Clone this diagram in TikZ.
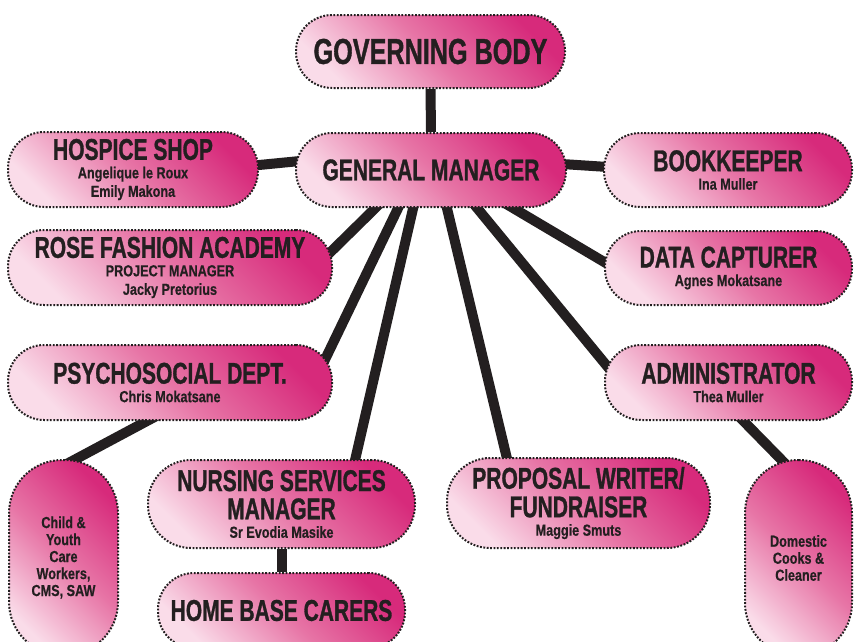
\documentclass[tikz,border=0pt]{standalone}
\usepackage{fontspec}
\setmainfont{Liberation Sans}
\newfontfamily\ttlfont{Liberation Sans}[FakeStretch=0.7, FakeBold=1]
\newfontfamily\subfnt{Liberation Sans}[FakeStretch=0.79, FakeBold=0.5]
\usetikzlibrary{calc,backgrounds}
\definecolor{ink}{HTML}{231F20}
\definecolor{pkdark}{HTML}{D72A7B}
\definecolor{pkmid}{HTML}{E775A6}
\definecolor{pklight}{HTML}{FADCE9}
\newcommand{\ttl}[1]{{\ttlfont\bfseries\fontsize{30}{29}\selectfont #1}}
\tikzset{
  box/.style={rectangle, draw=ink, line width=2pt, dash pattern=on 1.8pt off 1.6pt,
    top color=pkdark, bottom color=pklight, middle color=pkmid, shading angle=-45,
    align=center, inner sep=0pt, text=ink,
    font=\subfnt\bfseries\fontsize{16}{18.5}\selectfont},
  hbox/.style={box, rounded corners=36pt},
  tbox/.style={box, rounded corners=43pt},
  vbox/.style={box, rounded corners=53pt, font=\subfnt\bfseries\fontsize{16}{17}\selectfont},
  link/.style={line width=10pt, draw=ink},
}
\begin{document}
\begin{tikzpicture}[x=1pt,y=-1pt]
\path[use as bounding box] (0,0) rectangle (863,641);
\clip (0,0) rectangle (863,641);

\node[hbox, minimum width=269pt, minimum height=73pt] (gb) at (430.5,51.5)
  {{\ttlfont\bfseries\fontsize{36}{36}\selectfont GOVERNING BODY}};
\node[hbox, minimum width=270pt, minimum height=74pt] (gm) at (431,170)
  {\ttl{GENERAL MANAGER}};
\node[hbox, minimum width=250pt, minimum height=75pt] (hosp) at (133,169.5)
  {\ttl{HOSPICE SHOP}\\Angelique le Roux\\Emily Makona};
\node[hbox, minimum width=324pt, minimum height=75pt] (rose) at (170,267.5)
  {\ttl{ROSE FASHION ACADEMY}\\PROJECT MANAGER\\Jacky Pretorius};
\node[hbox, minimum width=324pt, minimum height=75pt] (psy) at (170,382.5)
  {\ttl{PSYCHOSOCIAL DEPT.}\\Chris Mokatsane};
\node[hbox, minimum width=248pt, minimum height=74pt] (book) at (728,170)
  {\ttl{BOOKKEEPER}\\Ina Muller};
\node[hbox, minimum width=247pt, minimum height=74pt] (data) at (728.5,268)
  {\ttl{DATA CAPTURER}\\Agnes Mokatsane};
\node[hbox, minimum width=247pt, minimum height=75pt] (admin) at (728.5,382.5)
  {\ttl{ADMINISTRATOR}\\Thea Muller};
\node[tbox, minimum width=267pt, minimum height=88pt] (nurs) at (281.5,504)
  {\ttl{NURSING SERVICES}\\[6pt]\ttl{MANAGER}\\Sr Evodia Masike};
\node[hbox, minimum width=247pt, minimum height=75pt] (home) at (281.5,610.5)
  {\ttl{HOME BASE CARERS}};
\node[tbox, minimum width=263pt, minimum height=90pt] (prop) at (578.5,503)
  {\ttl{PROPOSAL WRITER/}\\[6pt]\ttl{FUNDRAISER}\\Maggie Smuts};
\node[vbox, minimum width=109pt, minimum height=195pt] (child) at (63.5,557.5)
  {Child \&\\Youth\\Care\\Workers,\\CMS, SAW};
\node[vbox, minimum width=107pt, minimum height=196pt] (dom) at (798.5,558)
  {Domestic\\Cooks \&\\Cleaner};

\begin{scope}[on background layer]
\fill[white] (0,0) rectangle (863,641);
\begin{scope}[link]
\draw (gb.south) -- (gm.north);
\draw ($(gm.west)+(5,-9)$) -- ($(hosp.east)+(-5,-4)$);
\draw ($(gm.east)+(-5,-6)$) -- ($(book.west)+(5,-3)$);
\draw ($(gm.south)+(-47.5,-8)$) -- ($(rose.east)+(-10,-8)$);
\draw ($(gm.south)+(-29,-8)$) -- ($(psy.east)+(-14,-10.5)$);
\draw ($(gm.south)+(-16,-8)$) -- ($(nurs.north)+(71.5,10)$);
\draw ($(gm.south)+(14,-8)$) -- ($(prop.north)+(-69,12)$);
\draw ($(gm.south)+(39.5,-8)$) -- ($(admin.west)+(12,-5.5)$);
\draw ($(gm.south)+(68.5,-8)$) -- ($(data.west)+(12,1)$);
\draw ($(psy.south)+(-8,-8)$) -- ($(child.north)+(-10,12)$);
\draw (nurs.south) -- (home.north);
\draw ($(admin.south)+(10,-5)$) -- ($(dom.north)+(-8,10)$);
\end{scope}
\end{scope}
\end{tikzpicture}
\end{document}
